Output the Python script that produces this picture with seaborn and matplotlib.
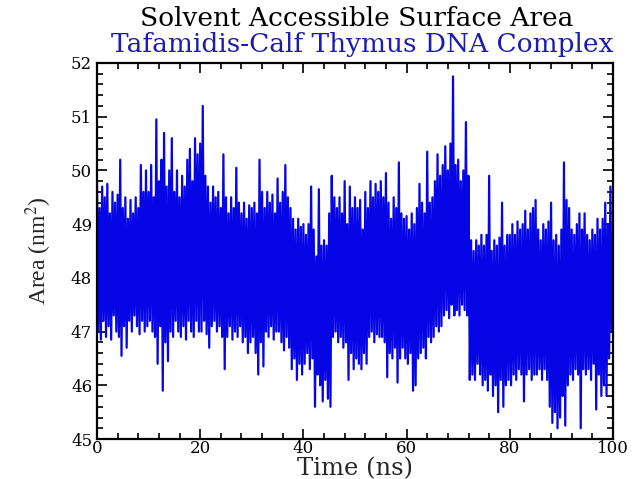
import numpy as np
import pandas as pd
import matplotlib
matplotlib.use("Agg")
import matplotlib.pyplot as plt
import seaborn as sns
from matplotlib.ticker import MultipleLocator

# Pics hauts (t = 0, 0.5, ... 99.5 ns) et creux (t = 0.25, 0.75, ... 99.75 ns)
area_hi = [
    49.8, 49.3, 49.7, 49.5, 49.75, 49.2, 49.6, 49.4, 49.55, 50.2,
    49.3, 49.5, 49.1, 49.45, 49.2, 49.5, 49.3, 50.1, 49.6, 50.0,
    49.6, 50.1, 49.5, 50.95, 49.8, 50.2, 50.7, 49.7, 50.0, 50.6,
    49.6, 50.0, 49.5, 49.9, 49.7, 50.2, 50.4, 49.8, 50.6, 50.3,
    50.5, 51.2, 49.9, 49.7, 49.4, 49.7, 49.5, 49.6, 49.3, 50.3,
    49.5, 49.2, 49.5, 49.3, 50.05, 49.4, 49.2, 49.4, 49.1, 49.35,
    49.3, 49.4, 49.2, 50.2, 49.6, 49.3, 49.6, 49.4, 49.55, 49.2,
    49.85, 49.4, 49.6, 50.1, 49.5, 49.3, 49.1, 48.9, 49.1, 48.95,
    49.0, 48.8, 49.0, 49.7, 48.9, 48.4, 49.65, 48.6, 48.7, 48.6,
    49.2, 49.9, 49.5, 49.3, 49.5, 49.2, 49.8, 49.0, 49.7, 49.3,
    49.5, 49.3, 49.45, 48.9, 49.6, 49.3, 49.8, 49.5, 49.75, 49.6,
    49.8, 49.5, 49.95, 49.4, 49.1, 49.5, 49.3, 50.15, 49.2, 49.1,
    49.15, 48.9, 49.2, 49.0, 49.3, 49.75, 49.4, 49.2, 50.35, 49.4,
    49.5, 49.8, 50.3, 49.9, 50.1, 50.45, 50.0, 50.5, 51.75, 50.1,
    50.2, 49.8, 50.0, 50.9, 49.9, 48.7, 48.5, 48.7, 48.6, 48.8,
    48.6, 48.8, 49.9, 48.5, 48.7, 48.6, 48.75, 49.4, 48.6, 48.8,
    48.8, 49.0, 48.8, 49.05, 48.9, 49.0, 49.25, 48.9, 49.2, 49.3,
    49.45, 48.9, 48.7, 49.0, 48.9, 49.05, 49.4, 48.7, 48.8, 48.6,
    48.9, 50.15, 49.45, 49.3, 48.9, 48.8, 49.0, 49.2, 48.9, 49.2,
    48.8, 48.7, 48.9, 48.8, 49.1, 48.9, 49.1, 49.4, 49.0, 49.7,
]
area_lo = [
    47.0, 46.85, 47.2, 46.9, 47.1, 46.85, 47.3, 47.0, 46.9, 46.55,
    47.1, 46.7, 47.2, 47.0, 47.3, 47.1, 46.95, 47.2, 47.0, 47.1,
    47.2, 47.0, 46.9, 46.4, 47.1, 45.9, 46.8, 46.45, 47.0, 46.9,
    47.2, 47.0, 46.9, 47.1, 46.85, 47.2, 47.0, 46.9, 47.2, 47.0,
    47.0, 47.2, 46.95, 46.7, 47.1, 47.2, 47.0, 47.1, 46.9, 46.3,
    46.9, 47.1, 46.85, 47.0, 46.9, 47.1, 46.8, 46.9, 46.6, 46.8,
    46.9, 46.6, 46.2, 46.8, 46.35, 47.0, 46.9, 47.1, 46.85, 47.0,
    47.0, 46.8, 46.65, 46.9, 46.7, 46.3, 46.5, 46.1, 46.4, 46.2,
    46.4, 46.6, 46.3, 46.5, 45.6, 46.2, 46.0, 45.7, 46.1, 45.75,
    45.6, 46.9, 47.0, 46.8, 46.9, 46.7, 46.8, 46.1, 46.6, 46.3,
    46.5, 46.4, 46.3, 46.6, 46.4, 46.9, 47.0, 46.8, 46.95, 46.9,
    46.9, 46.8, 46.15, 46.6, 46.5, 46.7, 46.05, 46.5, 46.7, 46.5,
    46.4, 46.6, 45.9, 46.0, 46.5, 46.6, 46.7, 46.5, 46.9, 46.8,
    46.9, 47.1, 47.0, 47.1, 47.3, 47.4, 47.25, 47.5, 47.3, 47.4,
    47.3, 47.5, 47.4, 47.3, 46.1, 46.2, 46.1, 46.4, 46.2, 46.0,
    46.1, 45.9, 46.2, 45.8, 46.0, 45.5, 46.1, 45.6, 46.0, 46.1,
    46.0, 46.2, 46.1, 46.3, 46.2, 45.7, 46.2, 46.3, 46.1, 46.2,
    46.2, 46.3, 46.1, 46.3, 46.1, 45.6, 45.3, 45.5, 45.2, 45.4,
    45.8, 45.25, 46.0, 46.2, 46.1, 46.3, 46.2, 45.2, 46.3, 46.2,
    46.3, 46.1, 46.4, 45.55, 46.2, 45.8, 46.0, 45.8, 46.5, 47.0,
]

# Axe des temps (ns) et série entrelacée
t_hi = np.arange(len(area_hi)) * 0.5
t_lo = t_hi + 0.25
df = pd.DataFrame({
    "time": np.concatenate([t_hi, t_lo]),
    "area": np.concatenate([area_hi, area_lo]),
}).sort_values("time")

sns.set_theme(style="ticks")
plt.rcParams["font.family"] = ["DejaVu Serif"]
plt.rcParams["mathtext.fontset"] = "stix"

fig = plt.figure(figsize=(6.36, 4.79), dpi=100)
ax = fig.add_axes([0.1525, 0.0835, 0.8113, 0.785])

sns.lineplot(data=df, x="time", y="area", ax=ax, color="#0505e6",
             linewidth=1.6, estimator=None, sort=True)

ax.set_xlim(0, 100)
ax.set_ylim(45, 52)
ax.xaxis.set_major_locator(MultipleLocator(20))
ax.xaxis.set_minor_locator(MultipleLocator(4))
ax.yaxis.set_major_locator(MultipleLocator(1))
ax.yaxis.set_minor_locator(MultipleLocator(0.2))
ax.tick_params(which="both", direction="in", top=True, right=True,
               colors="black", labelsize=12, width=1.2)
ax.tick_params(which="major", length=7)
ax.tick_params(which="minor", length=4)
ax.tick_params(axis="x", pad=1)
for s in ax.spines.values():
    s.set_linewidth(1.6)
    s.set_color("black")

ax.set_xlabel("Time (ns)", fontsize=17.5, va="top")
ax.xaxis.set_label_coords(0.5, -0.048)
ax.set_ylabel(r"Area (nm$^2$)", fontsize=17, labelpad=12,
              fontfamily="Liberation Serif")

fig.text(0.561, 0.962, "Solvent Accessible Surface Area", ha="center",
         va="center", fontsize=19, color="black")
fig.text(0.57, 0.908, "Tafamidis-Calf Thymus DNA Complex", ha="center",
         va="center", fontsize=19, color="#1c1cb0")

fig.savefig("out.png", dpi=100)
